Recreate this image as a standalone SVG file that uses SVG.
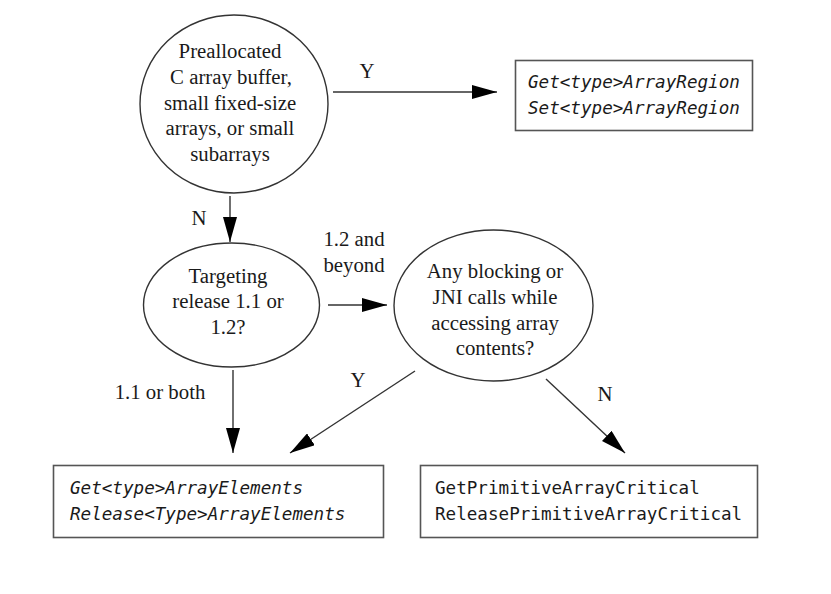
<svg xmlns="http://www.w3.org/2000/svg" width="831" height="594" viewBox="0 0 831 594">
<defs>
<style>
.bg{fill:#ffffff}
.shape{fill:#ffffff;stroke:#333333;stroke-width:1.4}
.box{fill:#ffffff;stroke:#555555;stroke-width:1.6}
.conn{stroke:#333333;stroke-width:1.4;fill:none}
.serif{font-family:"Liberation Serif","Times New Roman",serif;font-size:20.8px;fill:#1a1a1a;text-anchor:middle}
.mono{font-family:"DejaVu Sans Mono","Liberation Mono",monospace;font-size:17.6px;fill:#1a1a1a}
.it{font-style:italic}
</style>
<marker id="arr" viewBox="0 0 25 14" refX="25" refY="7" markerWidth="25" markerHeight="14" markerUnits="userSpaceOnUse" orient="auto">
<path d="M0,0 L25,7 L0,14 Z" fill="#000000"/>
</marker>
</defs>
<rect class="bg" x="0" y="0" width="831" height="594"/>

<g id="connectors">
<line class="conn" x1="333" y1="92" x2="497" y2="92" marker-end="url(#arr)"/>
<line class="conn" x1="230" y1="196" x2="230" y2="242" marker-end="url(#arr)"/>
<line class="conn" x1="328" y1="305" x2="387" y2="305" marker-end="url(#arr)"/>
<line class="conn" x1="233" y1="370" x2="233" y2="453" marker-end="url(#arr)"/>
<line class="conn" x1="415" y1="371" x2="290" y2="453" marker-end="url(#arr)"/>
<line class="conn" x1="546" y1="379" x2="625" y2="453" marker-end="url(#arr)"/>
<text class="serif" x="367" y="78">Y</text>
<text class="serif" x="199" y="225">N</text>
<text class="serif" x="354" y="246">1.2 and</text>
<text class="serif" x="354" y="272">beyond</text>
<text class="serif" x="160" y="399">1.1 or both</text>
<text class="serif" x="358" y="387">Y</text>
<text class="serif" x="605" y="401">N</text>
</g>

<g id="n-prealloc">
<ellipse class="shape" cx="234" cy="104" rx="94" ry="89"/>
<text class="serif" x="230" y="58">Preallocated</text>
<text class="serif" x="231" y="84">C array buffer,</text>
<text class="serif" x="230" y="110">small fixed-size</text>
<text class="serif" x="230" y="135">arrays, or small</text>
<text class="serif" x="230" y="161">subarrays</text>
</g>

<g id="n-region">
<rect class="box" x="515.5" y="60.5" width="237" height="70"/>
<text class="mono it" x="528" y="88">Get&lt;type&gt;ArrayRegion</text>
<text class="mono it" x="528" y="114">Set&lt;type&gt;ArrayRegion</text>
</g>

<g id="n-target">
<ellipse class="shape" cx="231.5" cy="305" rx="88" ry="62"/>
<text class="serif" x="228" y="283">Targeting</text>
<text class="serif" x="228" y="308">release 1.1 or</text>
<text class="serif" x="228" y="334">1.2?</text>
</g>

<g id="n-blocking">
<ellipse class="shape" cx="493.5" cy="305.5" rx="99.5" ry="75.5"/>
<text class="serif" x="495" y="278">Any blocking or</text>
<text class="serif" x="495" y="304">JNI calls while</text>
<text class="serif" x="495" y="330">accessing array</text>
<text class="serif" x="495" y="355">contents?</text>
</g>

<g id="n-elements">
<rect class="box" x="53.5" y="465.5" width="330" height="72"/>
<text class="mono it" x="70" y="494">Get&lt;type&gt;ArrayElements</text>
<text class="mono it" x="70" y="520">Release&lt;Type&gt;ArrayElements</text>
</g>

<g id="n-critical">
<rect class="box" x="420.5" y="465.5" width="337" height="72"/>
<text class="mono" x="435" y="494">GetPrimitiveArrayCritical</text>
<text class="mono" x="435" y="520">ReleasePrimitiveArrayCritical</text>
</g>
</svg>
